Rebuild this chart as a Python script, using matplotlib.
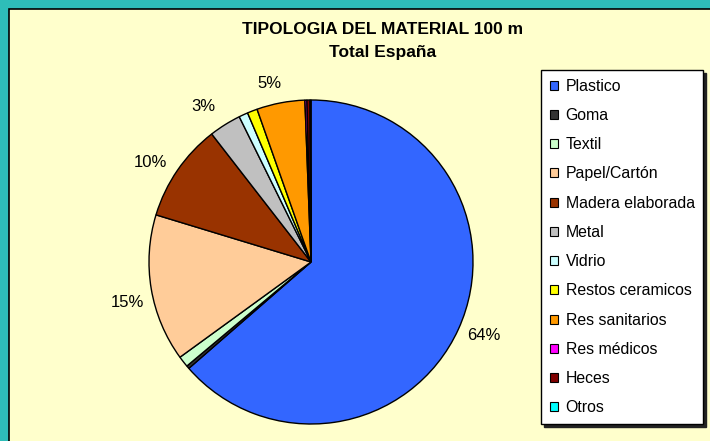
import matplotlib
matplotlib.use("Agg")
import matplotlib.pyplot as plt
from matplotlib.patches import Rectangle

categories = ["Plastico", "Goma", "Textil", "Papel/Cartón", "Madera elaborada",
              "Metal", "Vidrio", "Restos ceramicos", "Res sanitarios",
              "Res médicos", "Heces", "Otros"]
values = [63.6, 0.3, 1.1, 14.7, 9.8, 3.2, 0.9, 1.0, 4.8, 0.2, 0.3, 0.1]
colors = ["#3366FF", "#333333", "#CCFFCC", "#FFCC99", "#993300", "#C0C0C0",
          "#CCFFFF", "#FFFF00", "#FF9900", "#FF00FF", "#800000", "#00FFFF"]
title_lines = ["TIPOLOGIA DEL MATERIAL 100 m", "Total España"]

plt.rcParams['font.family'] = ['Liberation Sans', 'DejaVu Sans']

W, H = 710, 441
fig = plt.figure(figsize=(W / 100, H / 100), dpi=100)
fig.patch.set_facecolor("#2EBDB8")
fig.add_artist(Rectangle((9 / W, -0.01), 1.0, 1 - 9 / H + 0.01, transform=fig.transFigure,
                         facecolor="#FFFFCC", edgecolor="black", linewidth=1.2, zorder=0))

cx, cy, r = 311, 262, 162
ax = fig.add_axes([(cx - r) / W, (H - cy - r) / H, 2 * r / W, 2 * r / H])
ax.set_facecolor("none")


def fmt(p):
    return f"{p:.0f}%" if p >= 2.5 else ""


wedges, texts, autotexts = ax.pie(values, colors=colors, startangle=90, counterclock=False,
                                  autopct=fmt, pctdistance=1.16,
                                  wedgeprops=dict(edgecolor="black", linewidth=1.0),
                                  textprops=dict(fontsize=12, color="#000000"))
ax.set_xlim(-1, 1)
ax.set_ylim(-1, 1)
ax.set_aspect("equal")
ax.axis("off")

# small pixel nudges of the percentage labels (style only)
nudge_px = {0: (2, -4), 3: (2, 9), 4: (-6, 7), 5: (-8, 4), 8: (-6, 6)}
for i, (dx, dy) in nudge_px.items():
    x, y = autotexts[i].get_position()
    autotexts[i].set_position((x + dx / r, y - dy / r))

fig.text(383 / W, 1 - 30 / H, title_lines[0], ha="center", va="center",
         fontsize=12.5, fontweight="bold")
fig.text(383 / W, 1 - 53 / H, title_lines[1], ha="center", va="center",
         fontsize=12.5, fontweight="bold")

leg = fig.legend(wedges, categories, loc="upper left",
                 bbox_to_anchor=(541 / W, 1 - 70 / H), bbox_transform=fig.transFigure,
                 fontsize=11.4, frameon=True, fancybox=False,
                 shadow={'color': '#222222', 'alpha': 1},
                 handlelength=0.5, handleheight=0.5, handletextpad=0.5,
                 labelspacing=0.9, borderpad=0.55, borderaxespad=0)
leg.get_frame().set_edgecolor("black")
leg.get_frame().set_facecolor("white")
leg.get_frame().set_linewidth(1.0)
for h in leg.legend_handles:
    h.set_linewidth(0.8)

fig.savefig("out.png", dpi=100, facecolor=fig.get_facecolor())
